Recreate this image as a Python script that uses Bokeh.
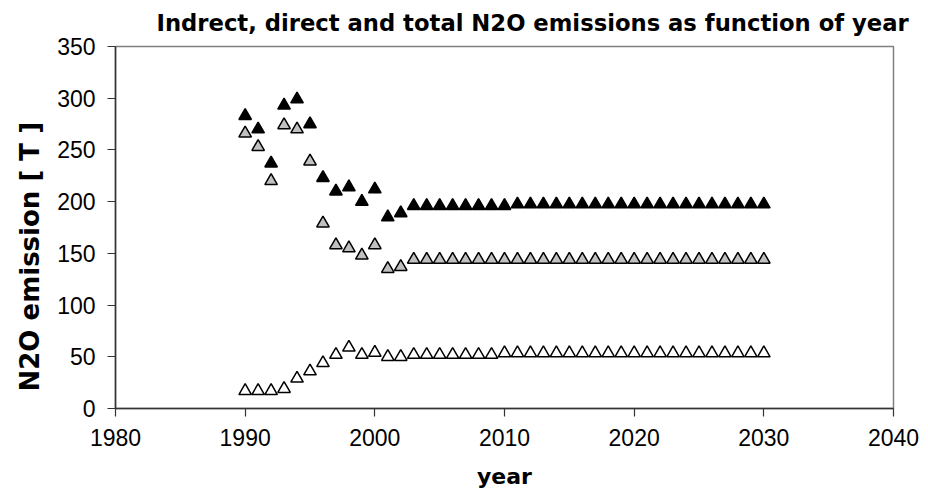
from bokeh.plotting import figure
from bokeh.models import Range1d, FixedTicker, Title
from bokeh.embed import file_html
from bokeh.resources import INLINE

years = [1990, 1991, 1992, 1993, 1994, 1995, 1996, 1997, 1998, 1999,
         2000, 2001, 2002, 2003, 2004, 2005, 2006, 2007, 2008, 2009,
         2010, 2011, 2012, 2013, 2014, 2015, 2016, 2017, 2018, 2019,
         2020, 2021, 2022, 2023, 2024, 2025, 2026, 2027, 2028, 2029, 2030]

total = [283, 270, 237, 293, 299, 275, 223, 210, 214, 200,
         212, 185, 189, 196, 196, 196, 196, 196, 196, 196,
         196, 197.5, 197.5, 197.5, 197.5, 197.5, 197.5, 197.5, 197.5, 197.5,
         197.5, 197.5, 197.5, 197.5, 197.5, 197.5, 197.5, 197.5, 197.5, 197.5, 197.5]

direct = [266, 253, 220, 274, 270, 239, 179, 158, 155, 148,
          158, 135, 137, 144, 144, 144, 144, 144, 144, 144,
          144, 144, 144, 144, 144, 144, 144, 144, 144, 144,
          144, 144, 144, 144, 144, 144, 144, 144, 144, 144, 144]

indirect = [17, 17, 17, 19, 29, 36, 44, 52, 59, 52,
            54, 50, 50, 52, 52, 52, 52, 52, 52, 52,
            53.5, 53.5, 53.5, 53.5, 53.5, 53.5, 53.5, 53.5, 53.5, 53.5,
            53.5, 53.5, 53.5, 53.5, 53.5, 53.5, 53.5, 53.5, 53.5, 53.5, 53.5]

x_ticks = [1980, 1990, 2000, 2010, 2020, 2030, 2040]
y_ticks = [0, 50, 100, 150, 200, 250, 300, 350]

title_text = "Indrect, direct and total N2O emissions as function of year"
x_label = "year"
y_label = "N2O emission [ T ]"

p = figure(width=920, height=495, output_backend="svg", toolbar_location=None,
           x_range=Range1d(1980, 2040), y_range=Range1d(0, 350),
           min_border_left=115, min_border_right=27,
           min_border_top=44, min_border_bottom=87)

p.title.text = title_text
p.title.align = "left"
p.title.offset = 41
p.title.standoff = 18
p.title.vertical_align = "top"
p.title.text_font = "DejaVu Sans"
p.title.text_font_size = "22.7px"
p.title.text_font_style = "bold"
p.title.text_color = "black"

p.xgrid.visible = False
p.ygrid.visible = False
p.outline_line_color = "#808080"
p.outline_line_width = 1.5
p.background_fill_color = "white"
p.border_fill_color = "white"

for ax in (p.xaxis[0], p.yaxis[0]):
    ax.axis_line_color = "#333333"
    ax.axis_line_width = 1.5
    ax.major_tick_line_color = "#333333"
    ax.major_tick_line_width = 1.2
    ax.major_tick_out = 8
    ax.major_tick_in = 0
    ax.minor_tick_line_color = None
    ax.major_label_text_font = "Liberation Sans"
    ax.major_label_text_font_size = "23px"
    ax.major_label_text_color = "black"
    ax.major_label_standoff = 12
    ax.axis_label_text_font = "DejaVu Sans"
    ax.axis_label_text_font_style = "bold"
    ax.axis_label_text_color = "black"

p.xaxis.ticker = FixedTicker(ticks=x_ticks)
p.yaxis.ticker = FixedTicker(ticks=y_ticks)
p.xaxis.axis_label = x_label
p.xaxis.axis_label_text_font_size = "22px"
p.xaxis.axis_label_standoff = 15

ytitle = Title(text=y_label, align="left", offset=17, standoff=20,
               text_font="DejaVu Sans", text_font_size="26px",
               text_font_style="bold", text_color="black")
p.add_layout(ytitle, "left")

p.scatter(years, indirect, marker="triangle", size=12.5,
          fill_color="white", line_color="black", line_width=1.5)
p.scatter(years, direct, marker="triangle", size=12.5,
          fill_color="#c0c0c0", line_color="black", line_width=1.5)
p.scatter(years, total, marker="triangle", size=12.5,
          fill_color="black", line_color="black", line_width=1.5)

open("out.html", "w").write(file_html(p, INLINE))
